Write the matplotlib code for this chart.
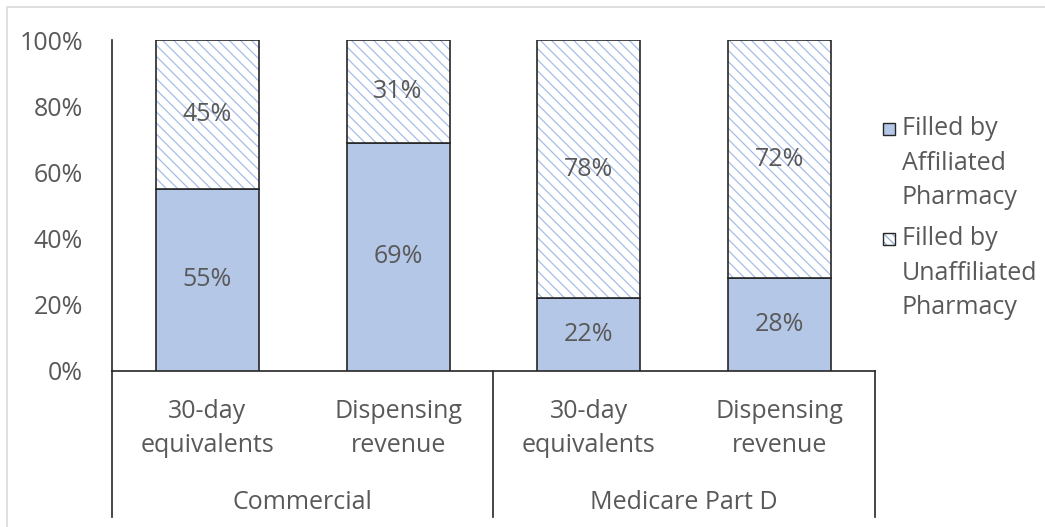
import matplotlib.pyplot as plt
import matplotlib.patches as mpatches
import numpy as np

plt.rcParams['font.family'] = ['Open Sans', 'DejaVu Sans']
plt.rcParams['hatch.linewidth'] = 0.9

groups = ['Commercial', 'Medicare Part D']
measures = ['30-day\nequivalents', 'Dispensing\nrevenue', '30-day\nequivalents', 'Dispensing\nrevenue']
affiliated = [55, 69, 22, 28]
unaffiliated = [45, 31, 78, 72]
series_names = ['Filled by\nAffiliated\nPharmacy', 'Filled by\nUnaffiliated\nPharmacy']

fill_blue = '#B4C7E7'
hatch_blue = '#A6BDE6'
dark = '#262626'
text_gray = '#595959'
fs = 18

W, H = 1045, 527
fig = plt.figure(figsize=(W / 100, H / 100), dpi=100)
ax = fig.add_axes([112 / W, 1 - 371 / H, (875 - 112) / W, (371 - 40) / H])

x = np.arange(len(measures))
w = 0.54
ax.bar(x, affiliated, w, color=fill_blue, edgecolor=dark, linewidth=1.2, zorder=3)
# hatched top part: hatch in light blue, outline drawn on top in dark
ax.bar(x, unaffiliated, w, bottom=affiliated, color='white', edgecolor=hatch_blue,
       hatch='\\\\\\', linewidth=0, zorder=3)
ax.bar(x, unaffiliated, w, bottom=affiliated, color='none', edgecolor=dark,
       linewidth=1.2, zorder=4)

for i in range(len(x)):
    ax.text(x[i], affiliated[i] / 2, f'{affiliated[i]}%', ha='center', va='center',
            fontsize=fs, color=text_gray, zorder=5)
    ax.text(x[i], affiliated[i] + unaffiliated[i] / 2, f'{unaffiliated[i]}%', ha='center',
            va='center', fontsize=fs, color=text_gray, zorder=5)

ax.set_xlim(-0.5, 3.5)
ax.set_ylim(0, 100)
ax.set_yticks(np.arange(0, 101, 20))
ax.set_yticklabels([f'{v}%' for v in range(0, 101, 20)], fontsize=fs, color=text_gray)
ax.tick_params(axis='y', length=0, pad=21)
ax.set_xticks([])
for s in ['top', 'right']:
    ax.spines[s].set_visible(False)
for s in ['left', 'bottom']:
    ax.spines[s].set_color(dark)
    ax.spines[s].set_linewidth(1.2)

# multi-level category axis (offsets in axes fraction, axes is 331 px tall)
trans = ax.get_xaxis_transform()
ah = 331
for xv in [-0.5, 1.5, 3.5]:
    ax.plot([xv, xv], [0, -(517 - 371) / ah], transform=trans, color=dark, lw=1.2,
            clip_on=False)
for i in range(len(x)):
    for j, line in enumerate(measures[i].split('\n')):
        ax.text(x[i], -(47 + 34 * j) / ah, line, transform=trans, ha='center',
                va='baseline', fontsize=fs, color=text_gray)
for g, name in enumerate(groups):
    ax.text(2 * g + 0.5, -(509 - 371) / ah, name, transform=trans, ha='center',
            va='baseline', fontsize=fs, color=text_gray)

# legend drawn by hand so the marker sits on the first line
leg_base = [135, 245]
for k, name in enumerate(series_names):
    if k == 0:
        sq = mpatches.Rectangle((883 / W, 1 - leg_base[k] / H), 12 / W, 12 / H,
                                transform=fig.transFigure, facecolor=fill_blue,
                                edgecolor=dark, lw=1)
    else:
        sq = mpatches.Rectangle((883 / W, 1 - leg_base[k] / H), 12 / W, 12 / H,
                                transform=fig.transFigure, facecolor='white',
                                edgecolor='#8FA9D9', hatch='\\\\\\\\', lw=0)
        fig.patches.append(sq)
        sq = mpatches.Rectangle((883 / W, 1 - leg_base[k] / H), 12 / W, 12 / H,
                                transform=fig.transFigure, facecolor='none',
                                edgecolor=dark, lw=1)
    fig.patches.append(sq)
    for j, line in enumerate(name.split('\n')):
        fig.text(902 / W, 1 - (leg_base[k] + 34.5 * j) / H, line, ha='left',
                 va='baseline', fontsize=fs, color=text_gray)

# light chart border
fig.patches.append(mpatches.Rectangle((7 / W, -0.05), 1.1, 1 - 7 / H + 0.05,
                                      transform=fig.transFigure, facecolor='none',
                                      edgecolor='#D9D9D9', lw=1.2))

fig.savefig('out.png', dpi=100)
